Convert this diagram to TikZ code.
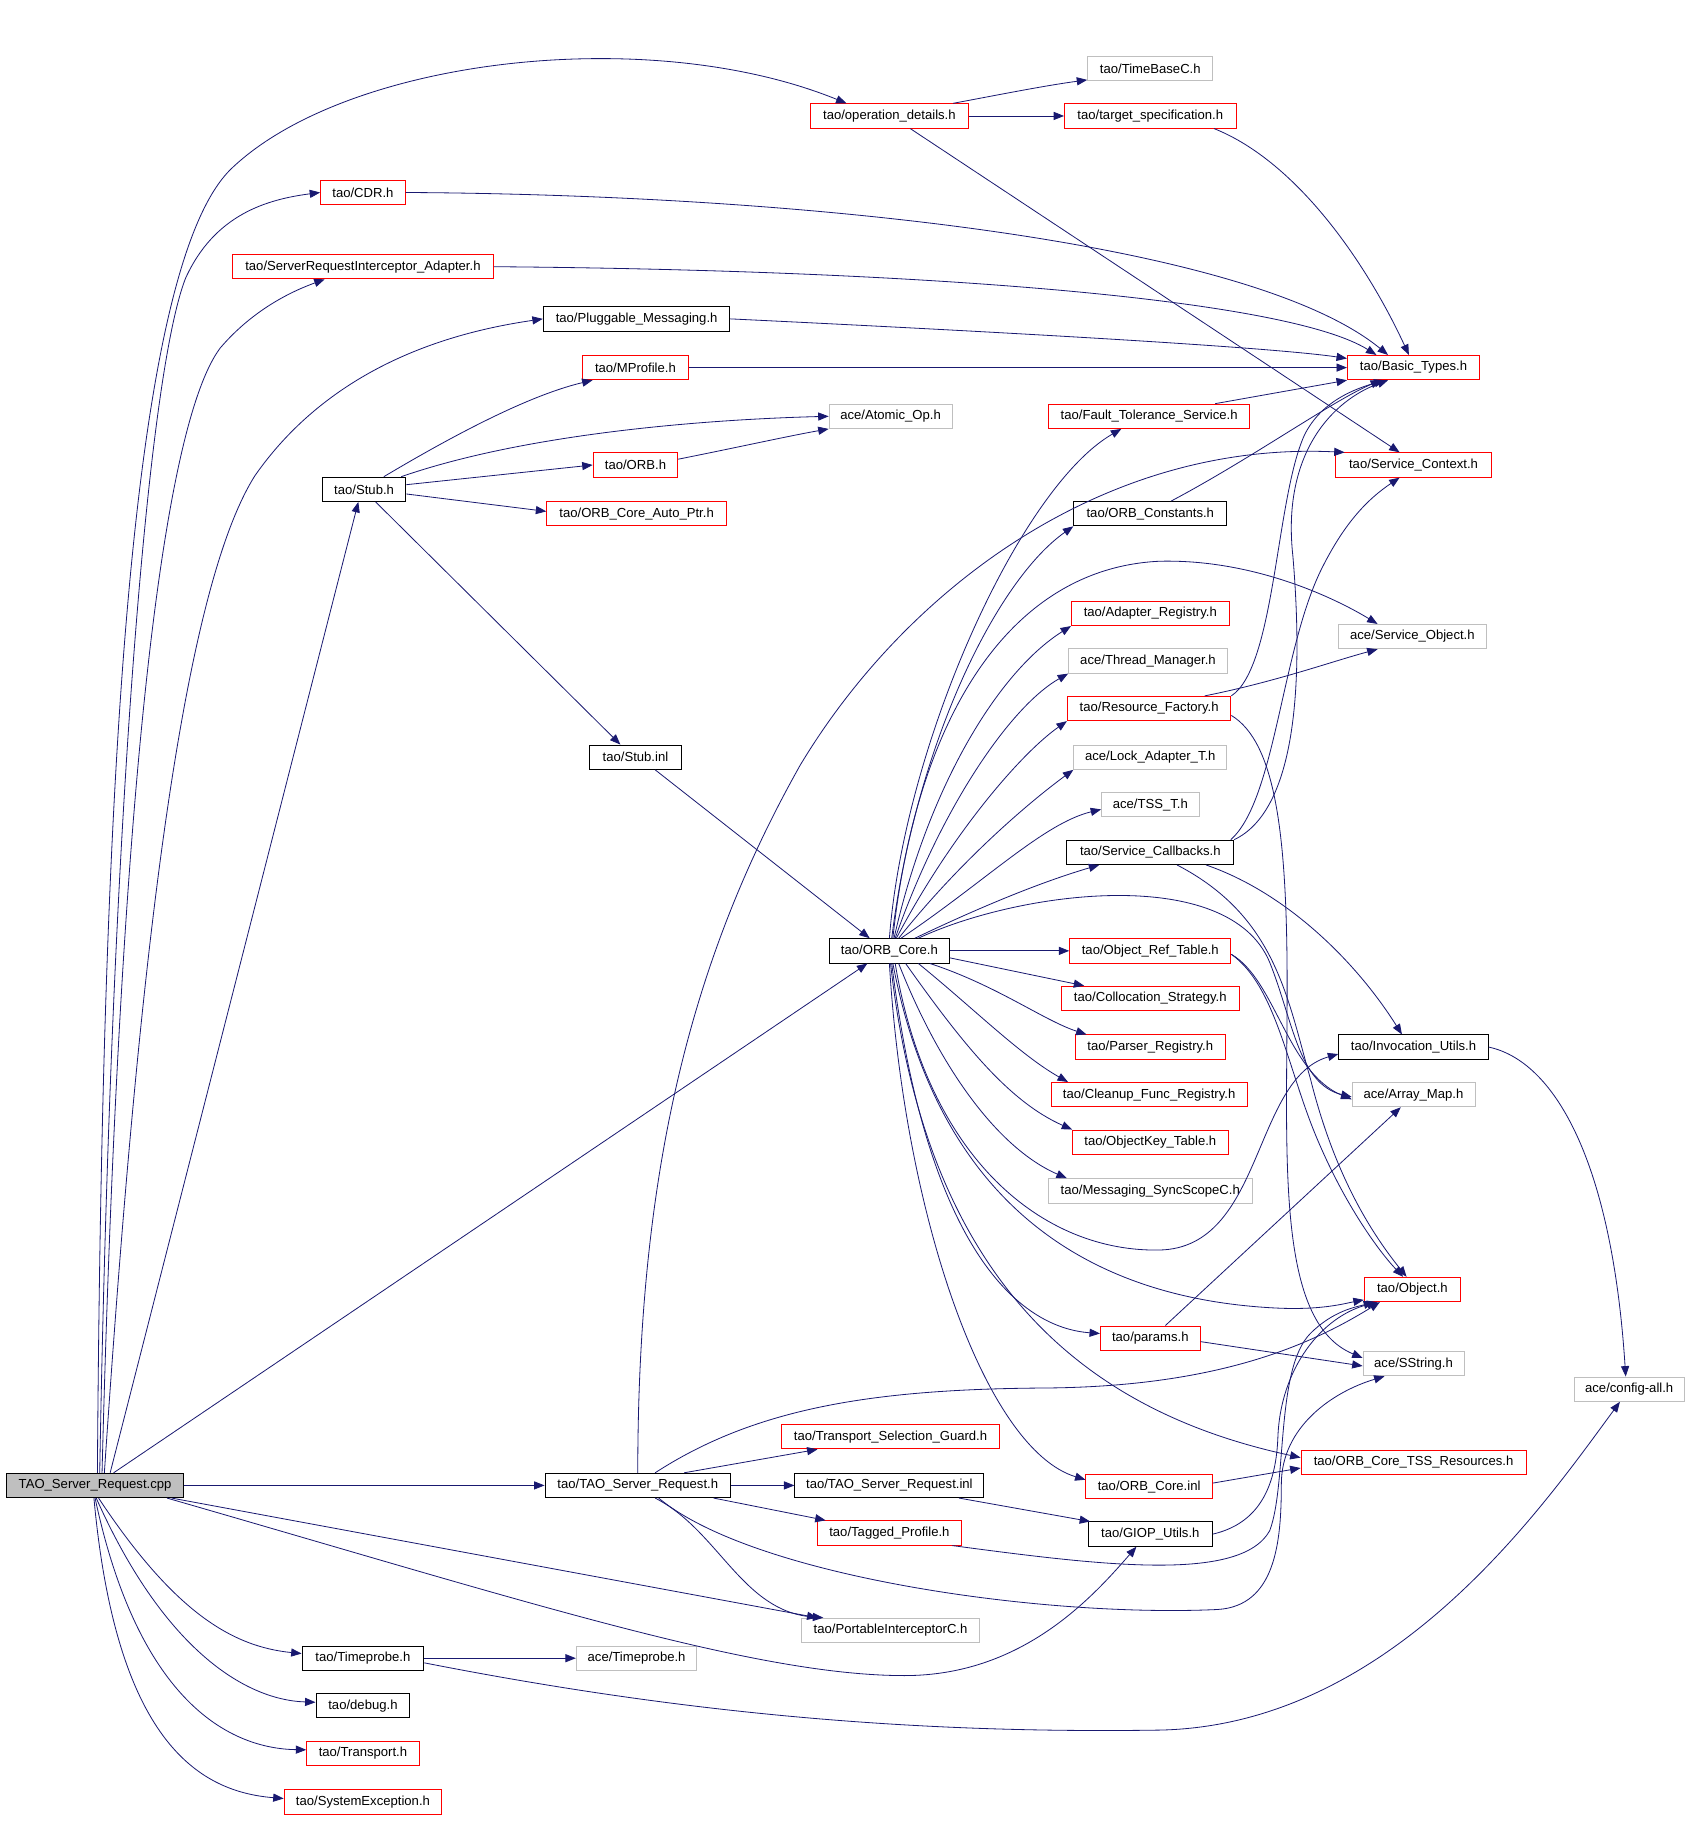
\documentclass[tikz,border=0pt]{standalone}
\usepackage{fontspec}
\setmainfont{Liberation Sans}
\usepackage{tikz}
\usetikzlibrary{positioning, arrows.meta}

\definecolor{edgeblue}{HTML}{191970}
\definecolor{boxgray}{HTML}{BFBFBF}

\begin{document}
\begin{tikzpicture}[x=1pt, y=-1pt,
    hfile/.style={draw=black, line width=0.8pt, minimum height=21pt, inner sep=0pt, font=\fontsize{11.3}{13}\selectfont},
    hred/.style={hfile, draw=red},
    hgray/.style={hfile, draw=boxgray},
    hsrc/.style={hfile, fill=boxgray},
    dep/.style={draw=edgeblue, line width=0.7pt, -{Triangle[length=9pt, width=7pt]}}]
    \useasboundingbox (0,0) rectangle (1463,1573);

    % Define nodes
    \node[hsrc, minimum width=152] (cpp) at (82,1281) {TAO\_Server\_Request.cpp};
    \node[hred, minimum width=136] (opdet) at (767,100) {tao/operation\_details.h};
    \node[hgray, minimum width=108] (timebase) at (992,59) {tao/TimeBaseC.h};
    \node[hred, minimum width=148] (target) at (992,100) {tao/target\_specification.h};
    \node[hred, minimum width=73] (cdr) at (313,166) {tao/CDR.h};
    \node[hred, minimum width=225] (sria) at (313,230) {tao/ServerRequestInterceptor\_Adapter.h};
    \node[hfile, minimum width=161] (plugmsg) at (549,275) {tao/Pluggable\_Messaging.h};
    \node[hred, minimum width=91] (mprofile) at (548,317) {tao/MProfile.h};
    \node[hred, minimum width=114] (basic) at (1219,317) {tao/Basic\_Types.h};
    \node[hgray, minimum width=106] (atomic) at (768,359) {ace/Atomic\_Op.h};
    \node[hred, minimum width=173] (ft) at (991,359) {tao/Fault\_Tolerance\_Service.h};
    \node[hred, minimum width=73] (orb) at (548,401) {tao/ORB.h};
    \node[hred, minimum width=134] (svcctx) at (1219,401) {tao/Service\_Context.h};
    \node[hfile, minimum width=72] (stub) at (314,422) {tao/Stub.h};
    \node[hred, minimum width=155] (autoptr) at (549,443) {tao/ORB\_Core\_Auto\_Ptr.h};
    \node[hfile, minimum width=132] (orbconst) at (992,443) {tao/ORB\_Constants.h};
    \node[hred, minimum width=136] (adapter) at (992,529) {tao/Adapter\_Registry.h};
    \node[hgray, minimum width=128] (svcobj) at (1218,549) {ace/Service\_Object.h};
    \node[hgray, minimum width=137] (thrmgr) at (990,570) {ace/Thread\_Manager.h};
    \node[hred, minimum width=141] (resfact) at (991,611) {tao/Resource\_Factory.h};
    \node[hfile, minimum width=79] (stubinl) at (548,653) {tao/Stub.inl};
    \node[hgray, minimum width=132] (lockad) at (992,653) {ace/Lock\_Adapter\_T.h};
    \node[hgray, minimum width=84] (tss) at (992,694) {ace/TSS\_T.h};
    \node[hfile, minimum width=144] (svccb) at (992,735) {tao/Service\_Callbacks.h};
    \node[hfile, minimum width=103] (orbcore) at (767,820) {tao/ORB\_Core.h};
    \node[hred, minimum width=139] (objref) at (992,820) {tao/Object\_Ref\_Table.h};
    \node[hred, minimum width=154] (colloc) at (992,861) {tao/Collocation\_Strategy.h};
    \node[hred, minimum width=129] (parser) at (992,903) {tao/Parser\_Registry.h};
    \node[hfile, minimum width=129] (invoc) at (1219,903) {tao/Invocation\_Utils.h};
    \node[hred, minimum width=169] (cleanup) at (991,944) {tao/Cleanup\_Func\_Registry.h};
    \node[hgray, minimum width=106] (arraymap) at (1219,944) {ace/Array\_Map.h};
    \node[hred, minimum width=134] (objkey) at (992,985) {tao/ObjectKey\_Table.h};
    \node[hgray, minimum width=176] (syncscope) at (992,1027) {tao/Messaging\_SyncScopeC.h};
    \node[hred, minimum width=83] (object) at (1218,1112) {tao/Object.h};
    \node[hred, minimum width=86] (params) at (992,1154) {tao/params.h};
    \node[hgray, minimum width=87] (sstring) at (1219,1176) {ace/SString.h};
    \node[hgray, minimum width=95] (configall) at (1405,1198) {ace/config-all.h};
    \node[hred, minimum width=188] (tsg) at (768,1239) {tao/Transport\_Selection\_Guard.h};
    \node[hred, minimum width=194] (tssres) at (1219,1261) {tao/ORB\_Core\_TSS\_Resources.h};
    \node[hfile, minimum width=160] (tsrh) at (550,1281) {tao/TAO\_Server\_Request.h};
    \node[hfile, minimum width=163] (tsrinl) at (767,1281) {tao/TAO\_Server\_Request.inl};
    \node[hred, minimum width=109] (orbcoreinl) at (991,1282) {tao/ORB\_Core.inl};
    \node[hred, minimum width=124] (tagged) at (767,1322) {tao/Tagged\_Profile.h};
    \node[hfile, minimum width=107] (giop) at (992,1323) {tao/GIOP\_Utils.h};
    \node[hgray, minimum width=154] (pic) at (768,1406) {tao/PortableInterceptorC.h};
    \node[hfile, minimum width=105] (timeprobe) at (313,1430) {tao/Timeprobe.h};
    \node[hgray, minimum width=104] (acetimeprobe) at (549,1430) {ace/Timeprobe.h};
    \node[hfile, minimum width=81] (debug) at (313,1471) {tao/debug.h};
    \node[hred, minimum width=97] (transport) at (313,1512) {tao/Transport.h};
    \node[hred, minimum width=136] (sysexc) at (313,1554) {tao/SystemException.h};

    % Draw arrows from the source file
    \draw[dep] ([xshift=2pt]cpp.north) .. controls (88,700) and (110,230) .. (200,145) .. controls (300,50) and (560,20) .. ([xshift=-37pt]opdet.north);
    \draw[dep] ([xshift=4pt]cpp.north) .. controls (95,750) and (125,330) .. (160,240) .. controls (185,185) and (230,172) .. (cdr.west);
    \draw[dep] ([xshift=6pt]cpp.north) .. controls (100,800) and (130,380) .. (190,300) .. controls (220,265) and (255,250) .. ([xshift=-33pt]sria.south);
    \draw[dep] ([xshift=8pt]cpp.north) .. controls (115,900) and (150,520) .. (220,410) .. controls (290,310) and (400,285) .. (plugmsg.west);
    \draw[dep] ([xshift=13pt]cpp.north) -- ([xshift=-5pt]stub.south);
    \draw[dep] ([xshift=16pt]cpp.north) -- ([xshift=-19pt]orbcore.south);
    \draw[dep] (cpp.east) -- (tsrh.west);
    \draw[dep] ([xshift=66pt]cpp.south) -- ([xshift=-63pt]pic.north);
    \draw[dep] ([xshift=62pt]cpp.south) .. controls (450,1380) and (650,1445) .. (780,1445) .. controls (880,1445) and (940,1380) .. ([xshift=-12pt]giop.south);
    \draw[dep] ([xshift=3pt]cpp.south) .. controls (150,1390) and (200,1420) .. ([yshift=4pt]timeprobe.west);
    \draw[dep] ([xshift=1pt]cpp.south) .. controls (140,1420) and (210,1466) .. ([yshift=3pt]debug.west);
    \draw[dep] (cpp.south) .. controls (120,1470) and (200,1508) .. ([yshift=3pt]transport.west);
    \draw[dep] ([xshift=-1pt]cpp.south) .. controls (100,1500) and (170,1545) .. ([yshift=3pt]sysexc.west);

    % operation details and upper headers
    \draw[dep] ([xshift=55pt]opdet.north) .. controls (860,82) and (900,74) .. ([yshift=1pt]timebase.south west);
    \draw[dep] (opdet.east) -- (target.west);
    \draw[dep] ([xshift=18pt]opdet.south) -- ([xshift=-12pt]svcctx.north);
    \draw[dep] ([xshift=55pt]target.south) .. controls (1120,140) and (1180,230) .. ([xshift=-4pt]basic.north);
    \draw[dep] (cdr.east) .. controls (700,168) and (1080,210) .. ([xshift=-22pt]basic.north);
    \draw[dep] (sria.east) .. controls (800,233) and (1110,258) .. ([xshift=-32pt]basic.north);
    \draw[dep] (plugmsg.east) .. controls (900,288) and (1100,300) .. ([yshift=-3pt]basic.north west);
    \draw[dep] (mprofile.east) -- (basic.west);
    \draw[dep] ([xshift=57pt]ft.north) -- (basic.south west);
    \draw[dep] ([xshift=18pt]orbconst.north) .. controls (1080,395) and (1150,345) .. ([xshift=-28pt]basic.south);
    \draw[dep] (resfact.north east) .. controls (1100,575) and (1100,430) .. (1125,375) .. controls (1140,345) and (1170,335) .. ([xshift=-25pt]basic.south);
    \draw[dep] (svccb.north east) .. controls (1115,700) and (1125,600) .. (1115,480) .. controls (1105,390) and (1150,345) .. ([xshift=-22pt]basic.south);
    \draw[dep] ([xshift=-3pt]svccb.north east) .. controls (1100,690) and (1105,560) .. (1140,490) .. controls (1160,450) and (1180,430) .. ([xshift=-12pt]svcctx.south);
    \draw[dep] ([xshift=48pt]resfact.north) .. controls (1100,588) and (1150,570) .. ([xshift=-30pt]svcobj.south);
    \draw[dep] ([yshift=-6pt]resfact.east) .. controls (1100,640) and (1110,720) .. (1110,850) .. controls (1110,1000) and (1100,1140) .. ([yshift=5pt]sstring.west);

    % Stub
    \draw[dep] ([xshift=17pt]stub.north) .. controls (400,370) and (460,340) .. ([xshift=-37pt]mprofile.south);
    \draw[dep] ([xshift=32pt]stub.north) .. controls (450,375) and (600,362) .. (atomic.west);
    \draw[dep] ([yshift=4pt]stub.east) -- (orb.west);
    \draw[dep] ([yshift=-4pt]stub.east) -- ([yshift=2pt]autoptr.west);
    \draw[dep] ([xshift=10pt]stub.south) -- ([xshift=-13pt]stubinl.north);
    \draw[dep] ([yshift=5pt]orb.east) .. controls (640,385) and (680,376) .. (atomic.south west);
    \draw[dep] ([xshift=17pt]stubinl.south) -- ([xshift=-17pt]orbcore.north);

    % ORB_Core
    \draw[dep] (orbcore.north) .. controls (780,640) and (880,420) .. ([xshift=-24pt]ft.south);
    \draw[dep] ([xshift=2pt]orbcore.north) .. controls (790,640) and (860,500) .. (orbconst.south west);
    \draw[dep] ([xshift=3pt]orbcore.north) .. controls (790,620) and (870,490) .. (1000,484) .. controls (1080,482) and (1150,515) .. ([xshift=-30pt]svcobj.north);
    \draw[dep] ([xshift=4pt]orbcore.north) .. controls (800,680) and (860,580) .. (adapter.south west);
    \draw[dep] ([xshift=5pt]orbcore.north) .. controls (810,700) and (870,610) .. (thrmgr.south west);
    \draw[dep] ([xshift=6pt]orbcore.north) .. controls (820,720) and (880,650) .. (resfact.south west);
    \draw[dep] ([xshift=8pt]orbcore.north) .. controls (830,740) and (890,690) .. (lockad.south west);
    \draw[dep] ([xshift=10pt]orbcore.north) .. controls (850,760) and (900,710) .. ([yshift=-4pt]tss.west);
    \draw[dep] ([xshift=22pt]orbcore.north) .. controls (850,780) and (900,760) .. ([xshift=-44pt]svccb.south);
    \draw[dep] ([xshift=25pt]orbcore.north) .. controls (880,768) and (1060,745) .. (1095,830) .. controls (1115,880) and (1120,935) .. ([yshift=-2pt]arraymap.west);
    \draw[dep] (orbcore.east) -- (objref.west);
    \draw[dep] ([yshift=-6pt]orbcore.east) -- ([xshift=-57pt]colloc.north);
    \draw[dep] ([xshift=35pt]orbcore.south) .. controls (860,850) and (900,880) .. ([xshift=-55pt]parser.north);
    \draw[dep] ([xshift=25pt]orbcore.south) .. controls (840,870) and (880,910) .. ([xshift=-70pt]cleanup.north);
    \draw[dep] ([xshift=14pt]orbcore.south) .. controls (830,900) and (870,950) .. (objkey.north west);
    \draw[dep] ([xshift=8pt]orbcore.south) .. controls (810,920) and (860,990) .. ([xshift=-72pt]syncscope.north);
    \draw[dep] ([xshift=5pt]orbcore.south) .. controls (800,1000) and (900,1080) .. (1000,1078) .. controls (1090,1076) and (1080,930) .. ([yshift=-6pt]invoc.west);
    \draw[dep] ([xshift=3pt]orbcore.south) .. controls (810,1040) and (940,1120) .. (1100,1128) .. controls (1140,1130) and (1160,1124) .. ([yshift=-9pt]object.west);
    \draw[dep] ([xshift=2pt]orbcore.south) .. controls (800,1080) and (880,1145) .. ([yshift=4pt]params.west);
    \draw[dep] ([xshift=1pt]orbcore.south) .. controls (800,1120) and (950,1220) .. ([yshift=4pt]tssres.west);
    \draw[dep] (orbcore.south) .. controls (780,1050) and (850,1250) .. ([yshift=-5pt]orbcoreinl.north west);

    % right hand side
    \draw[dep] ([xshift=48pt]svccb.south) .. controls (1110,770) and (1170,830) .. ([xshift=-10pt]invoc.north);
    \draw[dep] ([xshift=23pt]svccb.south) .. controls (1100,790) and (1110,860) .. (1130,930) .. controls (1150,1010) and (1180,1060) .. ([xshift=-5pt]object.north);
    \draw[dep] ([yshift=-3pt]objref.east) .. controls (1100,845) and (1110,925) .. ([yshift=-4pt]arraymap.west);
    \draw[dep] ([yshift=-3pt]objref.east) .. controls (1100,850) and (1110,920) .. (1135,980) .. controls (1160,1040) and (1190,1080) .. ([xshift=-8pt]object.north);
    \draw[dep] ([xshift=13pt]params.north) -- ([xshift=-11pt]arraymap.south);
    \draw[dep] ([yshift=-3pt]params.east) -- ([yshift=-2pt]sstring.west);
    \draw[dep] (invoc.east) .. controls (1340,915) and (1390,1000) .. ([xshift=-3pt]configall.north);

    % TAO_Server_Request.h
    \draw[dep] ([xshift=40pt]tsrh.north) -- ([xshift=-63pt]tsg.south);
    \draw[dep] (tsrh.east) -- (tsrinl.west);
    \draw[dep] ([xshift=-15pt]tsrh.south east) -- ([xshift=-55pt]tagged.north);
    \draw[dep] ([xshift=15pt]tsrh.south) .. controls (620,1320) and (640,1390) .. ([xshift=-58pt]pic.north);
    \draw[dep] ([xshift=18pt]tsrh.south) .. controls (650,1360) and (900,1395) .. (1050,1388) .. controls (1100,1385) and (1105,1330) .. (1105,1280) .. controls (1105,1230) and (1150,1200) .. ([xshift=-25pt]sstring.south);
    \draw[dep] ([xshift=15pt]tsrh.north) .. controls (650,1215) and (750,1198) .. (900,1197) .. controls (1050,1196) and (1130,1160) .. ([xshift=-28pt]object.south);
    \draw[dep] (tsrh.north) .. controls (550,1000) and (600,820) .. (690,660) .. controls (780,510) and (950,380) .. ([xshift=8pt]svcctx.north west);
    \draw[dep] ([xshift=60pt]tsrinl.south) -- ([xshift=2pt]giop.north west);
    \draw[dep] ([xshift=-8pt]tagged.south east) .. controls (950,1350) and (1070,1365) .. (1095,1320) .. controls (1110,1280) and (1100,1180) .. (1130,1150) .. controls (1150,1130) and (1170,1127) .. ([xshift=-33pt]object.south);
    \draw[dep] (giop.east) .. controls (1080,1315) and (1100,1290) .. (1102,1240) .. controls (1104,1180) and (1140,1135) .. ([xshift=-30pt]object.south);
    \draw[dep] ([yshift=3pt]orbcoreinl.east) -- ([yshift=-5pt]tssres.west);

    % Timeprobe
    \draw[dep] (timeprobe.east) -- (acetimeprobe.west);
    \draw[dep] ([yshift=-4pt]timeprobe.east) .. controls (600,1480) and (800,1495) .. (1000,1492) .. controls (1200,1488) and (1330,1300) .. ([xshift=-8pt]configall.south);
\end{tikzpicture}
\end{document}
